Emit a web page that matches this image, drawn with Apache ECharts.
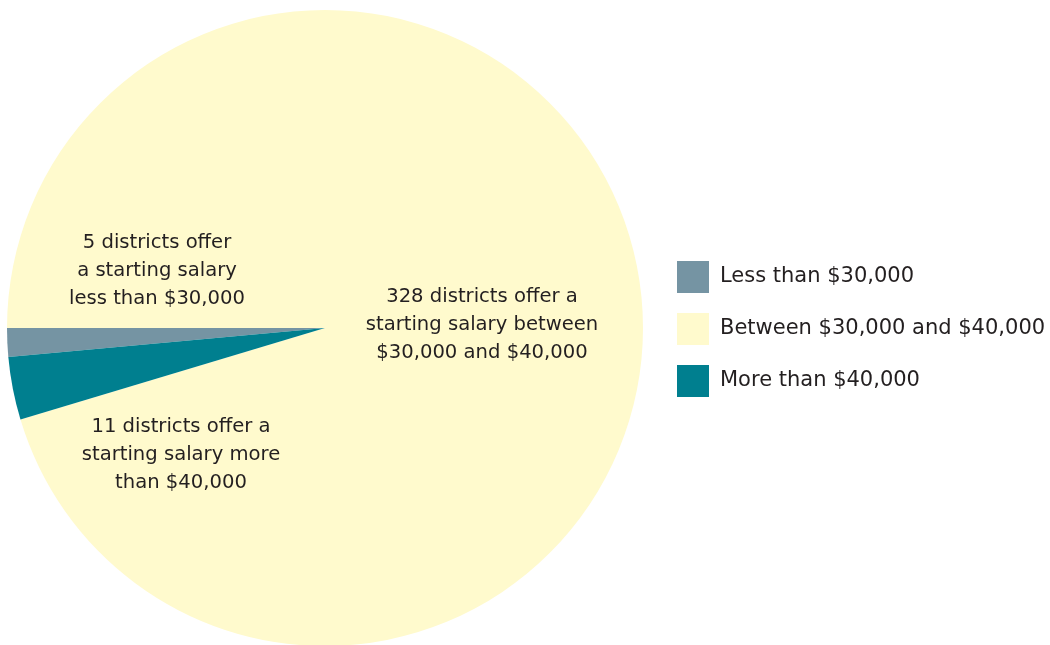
<!DOCTYPE html>
<html>
<head>
<meta charset="utf-8">
<script src="https://cdn.jsdelivr.net/npm/echarts@6/dist/echarts.min.js"></script>
<style>
html,body{margin:0;padding:0;background:#fff;}
#chart{width:1050px;height:645px;}
</style>
</head>
<body>
<div id="chart"></div>
<script>
// ---- data ----
const categories = ['Less than $30,000', 'Between $30,000 and $40,000', 'More than $40,000'];
const districtCounts = [5, 328, 11];
const sliceLabels = [
  '5 districts offer\na starting salary\nless than $30,000',
  '328 districts offer a\nstarting salary between\n$30,000 and $40,000',
  '11 districts offer a\nstarting salary more\nthan $40,000'
];

// ---- styling / layout ----
const colors = ['#7594a3', '#fffacd', '#007f8f'];
const labelPos = [[157, 271], [482, 325], [181, 455]];
const FONT = 'DejaVu Sans';

const total = districtCounts.reduce((a, b) => a + b, 0);
const startAngle = 180 + districtCounts[0] / total * 360;

const chart = echarts.init(document.getElementById('chart'), null, {renderer: 'canvas'});
chart.setOption({
  animation: false,
  backgroundColor: '#ffffff',
  legend: {
    orient: 'vertical',
    left: 677,
    top: 261,
    padding: 0,
    itemWidth: 32,
    itemHeight: 32,
    itemGap: 20,
    icon: 'rect',
    selectedMode: false,
    textStyle: {fontFamily: FONT, fontSize: 21, color: '#231f20', padding: [0, 0, 0, 6]},
    data: categories
  },
  series: [{
    type: 'pie',
    center: [325, 328],
    radius: 318,
    startAngle: startAngle,
    clockwise: true,
    avoidLabelOverlap: false,
    labelLine: {show: false},
    itemStyle: {borderWidth: 0},
    emphasis: {disabled: true},
    label: {
      show: true,
      position: 'inside',
      fontFamily: FONT,
      fontSize: 19.6,
      lineHeight: 28,
      color: '#231f20',
      align: 'center',
      formatter: p => sliceLabels[p.dataIndex]
    },
    labelLayout: p => ({
      x: labelPos[p.dataIndex][0],
      y: labelPos[p.dataIndex][1],
      align: 'center',
      verticalAlign: 'middle'
    }),
    data: categories.map((c, i) => ({name: c, value: districtCounts[i], itemStyle: {color: colors[i]}}))
  }]
});
</script>
</body>
</html>
